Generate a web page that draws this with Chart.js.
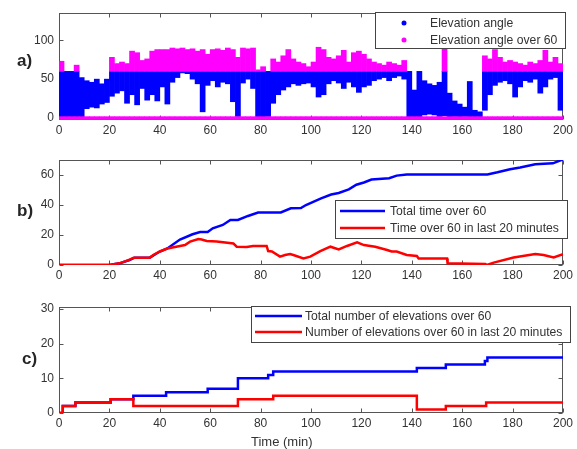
<!DOCTYPE html>
<html>
<head>
<meta charset="utf-8">
<script src="https://cdn.jsdelivr.net/npm/chart.js@4"></script>
<style>
  body { margin: 0; background: #fff; }
  #wrap { position: relative; width: 577px; height: 449px; font-family: "Liberation Sans", Arial, sans-serif; color: #262626; }
  canvas { position: absolute; left: 0; }
  .tag { position: absolute; font-weight: bold; font-size: 17px; line-height: 17px; }
  #xlabel { position: absolute; left: 251px; top: 435px; font-size: 13px; line-height: 13px; color: #333; }
</style>
</head>
<body>
<div id="wrap">
  <canvas id="panelA" width="577" height="146" style="top:0px"></canvas>
  <canvas id="panelB" width="577" height="145" style="top:146px"></canvas>
  <canvas id="panelC" width="577" height="158" style="top:291px"></canvas>
  <div class="tag" style="left:17px;top:52px">a)</div>
  <div class="tag" style="left:17px;top:202px">b)</div>
  <div class="tag" style="left:22px;top:350px">c)</div>
  <div id="xlabel">Time (min)</div>
</div>
<script>
// tick labels
const xTicks = [0, 20, 40, 60, 80, 100, 120, 140, 160, 180, 200];
const aTicks = [0, 50, 100];
const bTicks = [0, 20, 40, 60];
const cTicks = [0, 10, 20, 30];

// a) elevation angle, 2-minute bins: lowest and highest value in each bin
const elevLow = [
  0, 0, 0, 0, 0, 12, 14, 13, 18, 20,
  28, 32, 35, 19, 30, 17, 38, 23, 30, 22,
  40, 18, 46, 52, 58, 57, 50, 44, 8, 42,
  48, 40, 46, 44, 21, 2, 45, 50, 38, 0,
  0, 2, 19, 30, 36, 40, 44, 42, 44, 45,
  40, 27, 30, 44, 48, 45, 38, 46, 40, 33,
  40, 42, 48, 50, 52, 48, 52, 54, 50, 0,
  0, 0, 4, 5, 4, 2, 3, 0, 2, 1,
  2, 1, 1, 0, 10, 30, 42, 46, 48, 44,
  27, 40, 48, 46, 50, 32, 40, 50, 52, 10
];
const elevHigh = [
  73, 60, 60, 68, 52, 48, 46, 50, 44, 50,
  78, 70, 72, 70, 86, 84, 74, 76, 86, 88,
  88, 88, 90, 89, 90, 88, 89, 86, 88, 82,
  88, 89, 87, 90, 88, 78, 90, 89, 90, 62,
  66, 60, 76, 72, 80, 88, 76, 72, 70, 66,
  72, 91, 88, 78, 76, 80, 87, 72, 84, 86,
  82, 76, 72, 70, 68, 72, 70, 68, 74, 60,
  36, 60, 48, 44, 42, 46, 91, 32, 22, 18,
  14, 47, 10, 8, 80, 76, 88, 78, 72, 74,
  72, 70, 68, 72, 70, 74, 87, 72, 78, 70
];
const threshold = 60;

// b) minutes spent over 60
const totalTime = [0, 20, 24, 28, 30, 36, 40, 43, 48, 53, 56, 59, 61, 65, 68, 71, 75, 79, 88, 92,
  96, 98, 104, 108, 111, 115, 118, 121, 124, 131, 134, 138, 154, 170, 174, 179, 183, 189, 196, 200];
const totalOver60 = [0, 0, 1.1, 3.3, 4.9, 4.9, 9, 11, 17, 20.5, 22, 22, 24.5, 26.7, 30, 30, 32.7, 35, 35, 37.8,
  38, 40, 44.4, 47, 48, 50.4, 53.5, 55, 57, 57.8, 59.6, 60.4, 60.4, 60.4, 61.8, 63.8, 65, 67.1, 67.8, 70.4];
const recentTime = [0, 20, 24, 27.6, 29.6, 36, 37.4, 40, 43, 48, 50, 52, 55.3, 56.6, 58.6, 62.6, 69.2, 70.5,
  74.5, 77, 82.4, 83, 84.5, 87.7, 89.7, 91.7, 93, 97, 99.7, 103.7, 107.7, 111, 114.3, 118.3, 121, 125.5,
  130.2, 132, 134, 138, 142, 142.7, 154, 154.2, 169.2, 169.8, 172.5, 180.4, 189, 192.3, 196.3, 200];
const recentOver60 = [0, 0, 1.1, 3.3, 4.9, 4.9, 6.7, 9, 11, 12.7, 13.3, 15.6, 17.3, 17, 16, 15.6, 14.4, 12.2,
  12, 12.7, 12.7, 9.3, 9, 5.6, 6.7, 7.3, 6.7, 4.4, 5.6, 9.3, 12.2, 10.4, 12.7, 15.1, 13.3, 12.2,
  10, 9, 9, 6.7, 6, 4.4, 4.4, 1.1, 0.7, 0, 1.6, 5, 7.3, 6.7, 5, 7.3];

// c) number of elevations over 60 (value changes at each time)
const countTime = [0, 1.5, 6.5, 20.5, 29.5, 42.5, 59, 71, 83, 85, 142, 153.5, 169, 170, 200];
const countTotal = [0, 2, 3, 4, 5, 6, 7, 10, 11, 12, 13, 14, 15, 16, 16];
const recentCountTime = [0, 1.5, 6.5, 20.5, 29.5, 71, 85, 142, 153.5, 169.5, 200];
const recentCount = [0, 2, 3, 4, 2, 4, 5, 1, 2, 3, 3];

const FONT = '"Liberation Sans", Arial, sans-serif';
const TEXT = '#333';

const pairs = (xs, ys) => xs.map((x, i) => ({ x: x, y: ys[i] }));
const binTime = elevLow.map((_, i) => 2 * i + 1);

// matlab style box with inward ticks
const boxAxes = {
  id: 'boxAxes',
  beforeDatasetsDraw(chart) {
    const { ctx, chartArea: a, scales: { x, y } } = chart;
    const L = Math.round(a.left) + 0.5, R = Math.round(a.right) - 0.5;
    const T = Math.round(a.top) + 0.5, B = Math.round(a.bottom) - 0.5;
    ctx.save();
    ctx.strokeStyle = '#555';
    ctx.lineWidth = 1;
    ctx.strokeRect(L, T, R - L, B - T);
    ctx.beginPath();
    x.ticks.forEach(t => {
      const p = Math.round(x.getPixelForValue(t.value)) + 0.5;
      ctx.moveTo(p, B); ctx.lineTo(p, B - 4);
      ctx.moveTo(p, T); ctx.lineTo(p, T + 4);
    });
    y.ticks.forEach(t => {
      const p = Math.round(y.getPixelForValue(t.value)) + 0.5;
      ctx.moveTo(L, p); ctx.lineTo(L + 4, p);
      ctx.moveTo(R, p); ctx.lineTo(R - 4, p);
    });
    ctx.stroke();
    ctx.restore();
  }
};

// legend box drawn at a fixed spot, like the original figure
const boxLegend = {
  id: 'boxLegend',
  afterDraw(chart, args, o) {
    const ctx = chart.ctx;
    const items = chart.data.datasets.filter(d => d.label);
    ctx.save();
    ctx.fillStyle = '#fff';
    ctx.fillRect(o.left, o.top, o.width, o.height);
    ctx.strokeStyle = '#444';
    ctx.lineWidth = 1;
    ctx.strokeRect(o.left + 0.5, o.top + 0.5, o.width, o.height);
    ctx.font = '12.2px ' + FONT;
    ctx.textBaseline = 'middle';
    items.forEach((d, i) => {
      const yy = o.top + o.row0 + i * o.rowGap;
      const col = d.legendColor || d.borderColor;
      if (o.marker === 'dot') {
        ctx.fillStyle = col;
        ctx.beginPath();
        ctx.arc(o.left + o.markX, yy, 2.5, 0, Math.PI * 2);
        ctx.fill();
      } else {
        ctx.strokeStyle = col;
        ctx.lineWidth = 2.5;
        ctx.beginPath();
        ctx.moveTo(o.left + o.lineX0, yy);
        ctx.lineTo(o.left + o.lineX1, yy);
        ctx.stroke();
      }
      ctx.fillStyle = TEXT;
      ctx.fillText(d.label, o.left + o.textX, yy + 0.5);
    });
    ctx.restore();
  }
};

function scales(yMin, yMax, yTicks, xHeight) {
  return {
    x: {
      type: 'linear', min: 0, max: 200, offset: false,
      grid: { display: false, drawTicks: false }, border: { display: false },
      ticks: { color: TEXT, font: { size: 12, family: FONT }, padding: 3, maxRotation: 0, autoSkip: false },
      afterBuildTicks: s => { s.ticks = xTicks.map(v => ({ value: v })); },
      afterFit: s => { s.height = xHeight; }
    },
    y: {
      min: yMin, max: yMax,
      grid: { display: false, drawTicks: false }, border: { display: false },
      ticks: { color: TEXT, font: { size: 12, family: FONT }, padding: 5 },
      afterBuildTicks: s => { s.ticks = yTicks.map(v => ({ value: v })); },
      afterFit: s => { s.width = 59; }
    }
  };
}

const common = { responsive: false, animation: false, events: [] };

// PANEL A
new Chart(document.getElementById('panelA'), {
  type: 'bar',
  data: {
    datasets: [{
      label: 'Elevation angle',
      data: binTime.map((t, i) => ({ x: t, y: [elevLow[i], Math.min(elevHigh[i], threshold)] })),
      backgroundColor: '#0000ff', legendColor: '#0000ff',
      barPercentage: 1, categoryPercentage: 1, grouped: false, order: 2
    }, {
      label: 'Elevation angle over 60',
      data: binTime.filter((t, i) => elevHigh[i] > threshold)
        .map(t => { const i = (t - 1) / 2; return { x: t, y: [threshold, elevHigh[i]] }; }),
      backgroundColor: '#ff00ff', legendColor: '#ff00ff',
      barPercentage: 1, categoryPercentage: 1, grouped: false, order: 1
    }, {
      // the "over 60" series sits at zero whenever the angle is below 60
      data: binTime.filter((t, i) => elevLow[i] < threshold).map(t => ({ x: t, y: [-1.8, 1.8] })),
      backgroundColor: '#ff00ff',
      barPercentage: 1, categoryPercentage: 1, grouped: false, order: 0
    }]
  },
  options: {
    ...common,
    layout: { padding: { top: 13, right: 14 } },
    scales: scales(-2.5, 135, aTicks, 26),
    plugins: {
      legend: { display: false }, tooltip: { enabled: false },
      boxLegend: { left: 375, top: 12, width: 190, height: 36, row0: 11, rowGap: 17, marker: 'dot', markX: 29, textX: 55 }
    }
  },
  plugins: [boxAxes, boxLegend]
});

// PANEL B
new Chart(document.getElementById('panelB'), {
  type: 'line',
  data: {
    datasets: [{
      label: 'Total time over 60',
      data: pairs(totalTime, totalOver60),
      borderColor: '#0000ff', borderWidth: 2.5, pointRadius: 0, order: 1
    }, {
      label: 'Time over 60 in last 20 minutes',
      data: pairs(recentTime, recentOver60),
      borderColor: '#ff0000', borderWidth: 2.5, pointRadius: 0, order: 0
    }]
  },
  options: {
    ...common,
    layout: { padding: { top: 14, right: 14 } },
    scales: scales(0, 70, bTicks, 26),
    plugins: {
      legend: { display: false }, tooltip: { enabled: false },
      boxLegend: { left: 335, top: 54, width: 232, height: 38, row0: 11, rowGap: 17, lineX0: 5, lineX1: 50, textX: 55 }
    }
  },
  plugins: [boxAxes, boxLegend]
});

// PANEL C
new Chart(document.getElementById('panelC'), {
  type: 'line',
  data: {
    datasets: [{
      label: 'Total number of elevations over 60',
      data: pairs(countTime, countTotal),
      borderColor: '#0000ff', borderWidth: 2.5, pointRadius: 0, stepped: 'before', order: 1
    }, {
      label: 'Number of elevations over 60 in last 20 minutes',
      data: pairs(recentCountTime, recentCount),
      borderColor: '#ff0000', borderWidth: 2.5, pointRadius: 0, stepped: 'before', order: 0
    }]
  },
  options: {
    ...common,
    layout: { padding: { top: 16, right: 14 } },
    scales: scales(0, 30.6, cTicks, 36),
    plugins: {
      legend: { display: false }, tooltip: { enabled: false },
      boxLegend: { left: 251, top: 15, width: 319, height: 36, row0: 10, rowGap: 16, lineX0: 4, lineX1: 51, textX: 54 }
    }
  },
  plugins: [boxAxes, boxLegend]
});
</script>
</body>
</html>
